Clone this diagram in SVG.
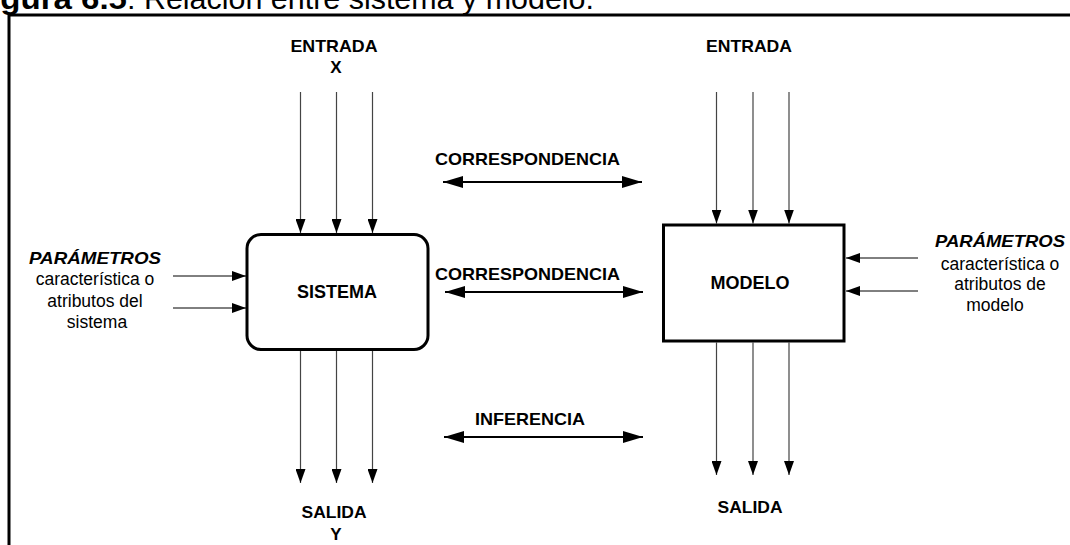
<svg xmlns="http://www.w3.org/2000/svg" width="1070" height="545" viewBox="0 0 1070 545">
<style>
  .lbl { font-family: "Liberation Sans", Arial, sans-serif; font-weight: bold; font-size: 17px; fill: #000; text-anchor: middle; }
  .box { font-family: "Liberation Sans", Arial, sans-serif; font-weight: bold; font-size: 18px; fill: #000; text-anchor: middle; }
  .par { font-family: "Liberation Sans", Arial, sans-serif; font-weight: bold; font-style: italic; font-size: 17px; fill: #000; text-anchor: middle; }
  .txt { font-family: "Liberation Sans", Arial, sans-serif; font-size: 17.5px; fill: #000; text-anchor: middle; }
  .ttl { font-family: "Liberation Sans", Arial, sans-serif; font-size: 30px; fill: #000; }
  .thin { stroke: #444; stroke-width: 1.2; fill: none; }
  .pthin { stroke: #000; stroke-width: 1; fill: none; }
  .thick { stroke: #000; stroke-width: 2.2; fill: none; }
  .node { fill: #fff; stroke: #000; stroke-width: 3; }
</style>
<defs>
  <marker id="arr" viewBox="0 0 14 10" refX="14" refY="5" markerWidth="14" markerHeight="10" markerUnits="userSpaceOnUse" orient="auto">
    <path d="M0,0 L14,5 L0,10 z" fill="#000"/>
  </marker>
  <marker id="big" viewBox="0 0 20 12" refX="20" refY="6" markerWidth="20" markerHeight="12" markerUnits="userSpaceOnUse" orient="auto-start-reverse">
    <path d="M0,0 L20,6 L0,12 z" fill="#000"/>
  </marker>
</defs>
<rect width="1070" height="545" fill="#fff"/>
<!-- title (cut off at top) -->
<text class="ttl" x="-29" y="9" font-weight="bold" textLength="156" lengthAdjust="spacingAndGlyphs">Figura 6.5</text>
<text class="ttl" x="127" y="9" textLength="467" lengthAdjust="spacingAndGlyphs">: Relación entre sistema y modelo.</text>
<!-- frame -->
<rect x="9" y="15" width="1100" height="600" fill="none" stroke="#000" stroke-width="3"/>

<g id="connectors">
  <!-- sistema inputs -->
  <line class="thin" x1="300.5" y1="92" x2="300.5" y2="233" marker-end="url(#arr)"/>
  <line class="thin" x1="336.5" y1="92" x2="336.5" y2="233" marker-end="url(#arr)"/>
  <line class="thin" x1="372.5" y1="92" x2="372.5" y2="233" marker-end="url(#arr)"/>
  <!-- sistema outputs -->
  <line class="thin" x1="300.5" y1="350" x2="300.5" y2="483" marker-end="url(#arr)"/>
  <line class="thin" x1="336.5" y1="350" x2="336.5" y2="483" marker-end="url(#arr)"/>
  <line class="thin" x1="372.5" y1="350" x2="372.5" y2="483" marker-end="url(#arr)"/>
  <!-- modelo inputs -->
  <line class="thin" x1="716.5" y1="92" x2="716.5" y2="223.5" marker-end="url(#arr)"/>
  <line class="thin" x1="753" y1="92" x2="753" y2="223.5" marker-end="url(#arr)"/>
  <line class="thin" x1="789" y1="92" x2="789" y2="223.5" marker-end="url(#arr)"/>
  <!-- modelo outputs -->
  <line class="thin" x1="716.5" y1="342.5" x2="716.5" y2="475" marker-end="url(#arr)"/>
  <line class="thin" x1="753" y1="342.5" x2="753" y2="475" marker-end="url(#arr)"/>
  <line class="thin" x1="789" y1="342.5" x2="789" y2="475" marker-end="url(#arr)"/>
  <!-- parameters -->
  <line class="pthin" x1="173" y1="276" x2="246" y2="276" marker-end="url(#arr)"/>
  <line class="pthin" x1="173" y1="308" x2="246" y2="308" marker-end="url(#arr)"/>
  <line class="pthin" x1="918" y1="258" x2="846" y2="258" marker-end="url(#arr)"/>
  <line class="pthin" x1="918" y1="291" x2="846" y2="291" marker-end="url(#arr)"/>
  <!-- correspondences -->
  <line class="thick" x1="443" y1="182" x2="642" y2="182" marker-start="url(#big)" marker-end="url(#big)"/>
  <line class="thick" x1="445" y1="292" x2="643" y2="292" marker-start="url(#big)" marker-end="url(#big)"/>
  <line class="thick" x1="444" y1="437" x2="643" y2="437" marker-start="url(#big)" marker-end="url(#big)"/>
</g>

<g id="sistema">
  <rect class="node" x="247" y="234.5" width="181" height="115" rx="14"/>
  <text class="box" x="337" y="298">SISTEMA</text>
</g>
<g id="modelo">
  <rect class="node" x="663.5" y="225" width="180.5" height="116"/>
  <text class="box" x="750" y="289">MODELO</text>
</g>

<g id="labels">
  <text class="lbl" x="334" y="52" textLength="87" lengthAdjust="spacingAndGlyphs">ENTRADA</text>
  <text class="lbl" x="336" y="73">X</text>
  <text class="lbl" x="749" y="52" textLength="86" lengthAdjust="spacingAndGlyphs">ENTRADA</text>
  <text class="lbl" x="527.5" y="165" textLength="185" lengthAdjust="spacingAndGlyphs">CORRESPONDENCIA</text>
  <text class="lbl" x="527.5" y="280" textLength="185" lengthAdjust="spacingAndGlyphs">CORRESPONDENCIA</text>
  <text class="lbl" x="530" y="425" textLength="110" lengthAdjust="spacingAndGlyphs">INFERENCIA</text>
  <text class="lbl" x="334" y="518" textLength="65" lengthAdjust="spacingAndGlyphs">SALIDA</text>
  <text class="lbl" x="336" y="540">Y</text>
  <text class="lbl" x="750" y="513" textLength="65" lengthAdjust="spacingAndGlyphs">SALIDA</text>
</g>

<g id="param-sistema">
  <text class="par" x="95" y="264" textLength="132" lengthAdjust="spacingAndGlyphs">PARÁMETROS</text>
  <text class="txt" x="95" y="285">característica o</text>
  <text class="txt" x="95" y="307">atributos del</text>
  <text class="txt" x="97" y="328">sistema</text>
</g>
<g id="param-modelo">
  <text class="par" x="1000" y="247" textLength="130" lengthAdjust="spacingAndGlyphs">PARÁMETROS</text>
  <text class="txt" x="1000" y="270">característica o</text>
  <text class="txt" x="1000" y="290">atributos de</text>
  <text class="txt" x="995" y="311">modelo</text>
</g>
</svg>
